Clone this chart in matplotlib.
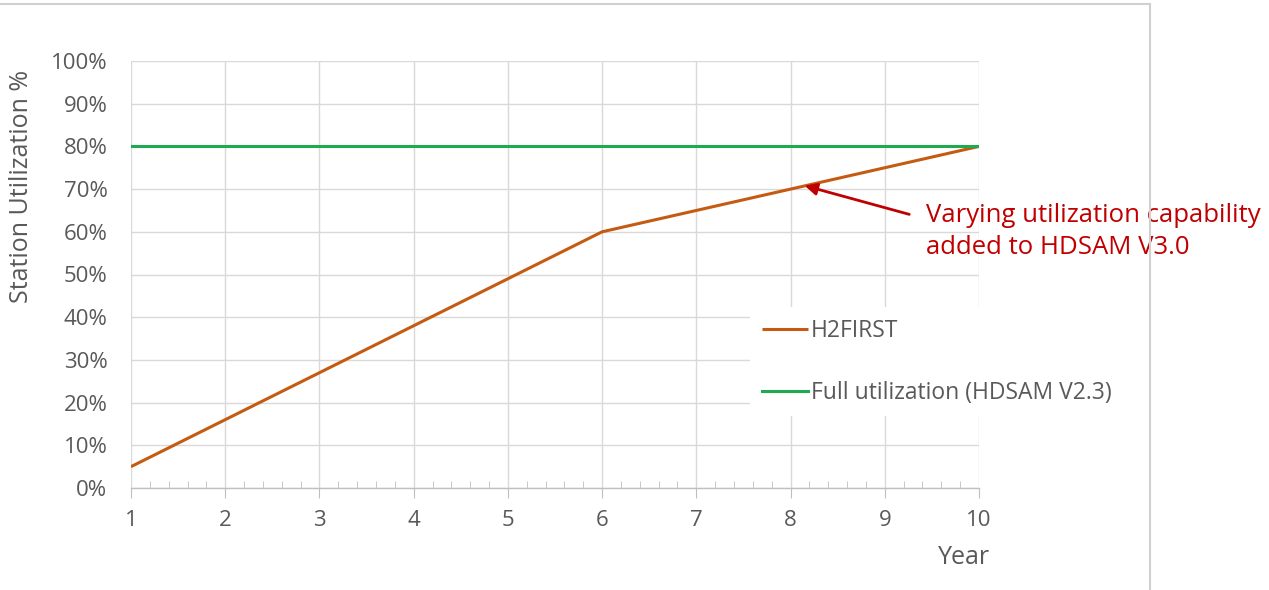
import numpy as np
import matplotlib
matplotlib.use('Agg')
import matplotlib.pyplot as plt
from matplotlib.lines import Line2D
from matplotlib.ticker import MultipleLocator, FuncFormatter

# station utilization by year
years = [1, 2, 3, 4, 5, 6, 7, 8, 9, 10]
h2first = [5, 16, 27, 38, 49, 60, 65, 70, 75, 80]
full_util = [80, 80, 80, 80, 80, 80, 80, 80, 80, 80]

orange = '#C55A11'
green = '#1FAA4F'
red = '#C00000'
grey_txt = '#595959'
grid_c = '#D9D9D9'

plt.rcParams['font.family'] = ['Open Sans', 'DejaVu Sans']

fig = plt.figure(figsize=(12.69, 5.90), dpi=100)
ax = fig.add_axes([131/1269, 1 - 488/590, (979 - 131)/1269, (488 - 61)/590])

ax.plot(years, h2first, color=orange, lw=2.2, label='H2FIRST', solid_capstyle='butt', zorder=3)
ax.plot(years, full_util, color=green, lw=2.2, label='Full utilization (HDSAM V2.3)', zorder=3)

ax.set_xlim(1, 10)
ax.set_ylim(0, 100)
ax.xaxis.set_major_locator(MultipleLocator(1))
ax.xaxis.set_minor_locator(MultipleLocator(0.2))
ax.yaxis.set_major_locator(MultipleLocator(10))
ax.yaxis.set_major_formatter(FuncFormatter(lambda v, p: '%d%%' % v))

ax.grid(True, which='major', color=grid_c, lw=1, zorder=0)
for s in ['top', 'right', 'left']:
    ax.spines[s].set_visible(False)
ax.spines['bottom'].set_color('#BFBFBF')
ax.spines['bottom'].set_linewidth(1)

ax.tick_params(axis='y', length=0, pad=17, labelsize=16, labelcolor=grey_txt)
ax.tick_params(axis='x', which='major', direction='out', length=7, color='#BFBFBF',
               pad=9, labelsize=16, labelcolor=grey_txt)
ax.tick_params(axis='x', which='minor', direction='in', length=5, color='#BFBFBF')

ax.set_ylabel('Station Utilization %', fontsize=18, color=grey_txt, va='center')
ax.yaxis.set_label_coords(-0.129, 0.707)
ax.set_xlabel('Year', fontsize=18, color=grey_txt)
ax.xaxis.set_label_coords(0.982, -0.134)

leg = ax.legend(loc='upper left', bbox_to_anchor=(739/1269, 1 - 296/590), bbox_transform=fig.transFigure,
                frameon=True, fancybox=False, edgecolor='none', facecolor='white', framealpha=1,
                fontsize=16.5, labelspacing=1.65, handlelength=2.0, handletextpad=0.15,
                borderpad=0.5, labelcolor=grey_txt)
leg.set_zorder(4)

ax.annotate('Varying utilization capability\nadded to HDSAM V3.0', xy=(8.15, 70.8),
            xytext=(926/1269, 1 - 203/590), textcoords='figure fraction',
            ha='left', va='top', fontsize=18.5, color=red, linespacing=1.36,
            annotation_clip=False,
            arrowprops=dict(arrowstyle='-|>', color=red, lw=2, mutation_scale=18,
                            shrinkA=0, shrinkB=0, relpos=(-0.05, 0.8)))

# chart frame edges
fig.add_artist(Line2D([0, 1150/1269], [1 - 4/590, 1 - 4/590], color='#D0D0D0', lw=1.5))
fig.add_artist(Line2D([1150/1269, 1150/1269], [0, 1 - 4/590], color='#D0D0D0', lw=1.5))

fig.savefig('out.png', dpi=100)
